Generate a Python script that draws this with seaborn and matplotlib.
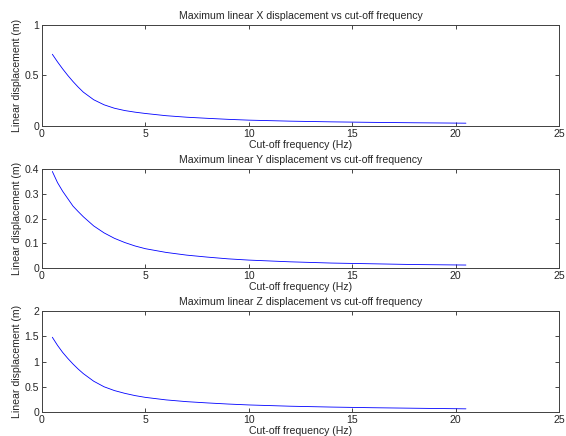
import matplotlib
matplotlib.use('Agg')
import matplotlib.pyplot as plt
import numpy as np
import pandas as pd
import seaborn as sns

freq = [0.5, 0.75, 1, 1.25, 1.5, 1.75, 2, 2.5, 3, 3.5, 4, 4.5, 5, 6, 7, 8, 9, 10, 12, 14, 16, 18, 20.5]
disp_x = [0.71, 0.635, 0.565, 0.5, 0.44, 0.385, 0.335, 0.26, 0.21, 0.176, 0.153, 0.137, 0.124,
          0.102, 0.087, 0.076, 0.066, 0.058, 0.048, 0.041, 0.036, 0.032, 0.028]
disp_y = [0.39, 0.345, 0.31, 0.28, 0.25, 0.228, 0.207, 0.17, 0.142, 0.12, 0.103, 0.089, 0.078,
          0.063, 0.052, 0.044, 0.037, 0.032, 0.025, 0.020, 0.017, 0.014, 0.012]
disp_z = [1.48, 1.32, 1.18, 1.06, 0.95, 0.85, 0.76, 0.61, 0.50, 0.425, 0.37, 0.325, 0.29,
          0.24, 0.205, 0.18, 0.158, 0.14, 0.115, 0.098, 0.085, 0.075, 0.063]

axis_names = ['X', 'Y', 'Z']
ylims = [1, 0.4, 2]
yticks = [[0, 0.5, 1], [0, 0.1, 0.2, 0.3, 0.4], [0, 0.5, 1, 1.5, 2]]

sns.set_style('ticks')
plt.rcParams['font.family'] = ['Liberation Sans', 'DejaVu Sans']
plt.rcParams['font.size'] = 7.6

fig = plt.figure(figsize=(5.66, 4.36), dpi=100)
positions = [[0.0742, 0.711, 0.9134, 0.2317],
             [0.0742, 0.3853, 0.9134, 0.2271],
             [0.0742, 0.055, 0.9134, 0.2317]]

for i, vals in enumerate([disp_x, disp_y, disp_z]):
    ax = fig.add_axes(positions[i])
    df = pd.DataFrame({'freq': freq, 'disp': vals})
    sns.lineplot(data=df, x='freq', y='disp', ax=ax, color='#0000ff', linewidth=0.6)
    ax.set_xlim(0, 25)
    ax.set_ylim(0, ylims[i])
    ax.set_xticks([0, 5, 10, 15, 20, 25])
    ax.set_xticklabels(['0', '5', '10', '15', '20', '25'])
    ax.set_yticks(yticks[i])
    ax.set_yticklabels([('%g' % t) for t in yticks[i]])
    ax.tick_params(direction='in', top=True, right=True, length=3, width=0.6, pad=2, labelsize=7.6)
    for s in ax.spines.values():
        s.set_linewidth(0.7)
        s.set_color('#404040')
    ax.set_title('Maximum linear %s displacement vs cut-off frequency' % axis_names[i], fontsize=7.6, pad=4)
    ax.set_xlabel('Cut-off frequency (Hz)', fontsize=7.6, labelpad=1)
    ax.set_ylabel('Linear displacement (m)', fontsize=7.6, labelpad=2)

fig.savefig('out.png', dpi=100, facecolor='white')
